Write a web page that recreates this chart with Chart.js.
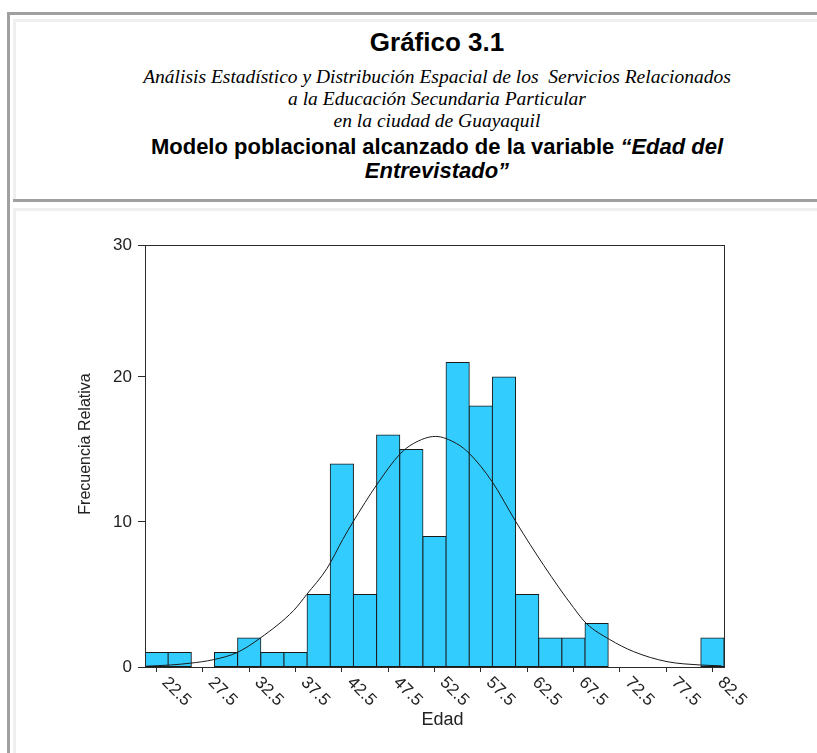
<!DOCTYPE html>
<html lang="es">
<head>
  <meta charset="UTF-8" />
  <title>Gráfico 3.1 - Edad del Entrevistado</title>
  <style>
    body {
      margin: 0;
      background: #fff;
      width: 817px;
      height: 753px;
      overflow: hidden;
      position: relative;
      font-family: 'Liberation Sans', Arial, sans-serif;
      color: #000;
    }
    .ln { position: absolute; }
    .dark { background: #a0a0a0; }
    .light { background: #efefef; }
    .txt {
      position: absolute;
      left: 16px;
      width: 842px;
      text-align: center;
      white-space: nowrap;
    }
    .t1 { top: 28px; font-size: 26px; line-height: 28px; font-weight: bold; }
    .t2 { top: 66px; font-size: 19.5px; line-height: 22px; font-style: italic; font-family: 'Liberation Serif', 'Times New Roman', serif; }
    .t3 { top: 135px; font-size: 22px; line-height: 24px; font-weight: bold; }
    #wrap { position: absolute; left: 16px; top: 211px; width: 801px; height: 542px; }
  </style>
</head>
<body>
  <!-- table borders -->
  <div class="ln dark" style="left:7px; top:12px; width:3px; height:741px;"></div>
  <div class="ln dark" style="left:7px; top:12px; width:810px; height:3px;"></div>
  <div class="ln light" style="left:13px; top:19px; width:3px; height:183px;"></div>
  <div class="ln light" style="left:13px; top:19px; width:804px; height:3px;"></div>
  <div class="ln dark" style="left:13px; top:199px; width:804px; height:3px;"></div>
  <div class="ln light" style="left:13px; top:208px; width:3px; height:545px;"></div>
  <div class="ln light" style="left:13px; top:208px; width:804px; height:3px;"></div>

  <div class="txt t1">Gráfico 3.1</div>
  <div class="txt t2">Análisis Estadístico y Distribución Espacial de los &nbsp;Servicios Relacionados<br>a la Educación Secundaria Particular<br>en la ciudad de Guayaquil</div>
  <div class="txt t3">Modelo poblacional alcanzado de la variable <i>“Edad del<br>Entrevistado”</i></div>

  <div id="wrap"><canvas id="histChart" width="801" height="542"></canvas></div>

  <script src="https://cdn.jsdelivr.net/npm/chart.js"></script>
  <script>
    // histogram bins (centre of each 2.5-year class) and counts
    const binCenters = [22.5, 25, 27.5, 30, 32.5, 35, 37.5, 40, 42.5, 45, 47.5, 50, 52.5,
                        55, 57.5, 60, 62.5, 65, 67.5, 70, 72.5, 75, 77.5, 80, 82.5];
    const frequencies = [1, 1, 0, 1, 2, 1, 1, 5, 14, 5, 16, 15, 9,
                         21, 18, 20, 5, 2, 2, 3, 0, 0, 0, 0, 2];

    // normal curve
    const curveX = [21.25, 24, 26.1, 28.6, 31.2, 33.7, 37.3, 38.7, 40.9, 42.6, 43.7, 46.3,
                    48.8, 50.2, 52.6, 54.9, 56.3, 58.7, 61.3, 64.3, 67.5, 68.9, 71.4, 74,
                    77.6, 81.2, 83.5];
    const curveY = [0.05, 0.14, 0.26, 0.5, 1.0, 2.0, 3.9, 5.0, 6.8, 8.8, 10.0, 12.6,
                    14.7, 15.4, 15.9, 15.4, 14.7, 12.8, 10.0, 7.0, 4.1, 3.0, 1.9, 1.06,
                    0.37, 0.14, 0.08];

    const xTickValues = [22.5, 27.5, 32.5, 37.5, 42.5, 47.5, 52.5, 57.5, 62.5, 67.5, 72.5, 77.5, 82.5];
    const xTickLabels = ['22.5', '27.5', '32.5', '37.5', '42.5', '47.5', '52.5', '57.5', '62.5', '67.5', '72.5', '77.5', '82.5'];
    // the top of the frame sits a little under 30 in the original, but is labelled 30
    const yTickValues = [0, 10, 20, 29.1];
    const yTickLabels = ['0', '10', '20', '30'];

    const tickFont = { family: "'Liberation Sans', Arial, sans-serif", size: 17 };

    // frame, rotated x labels and axis titles
    const framePlugin = {
      id: 'frame',
      afterDatasetsDraw(chart) {
        const { ctx, chartArea: a, scales: { x } } = chart;
        ctx.save();
        ctx.strokeStyle = '#2a2a2a';
        ctx.lineWidth = 1;
        ctx.strokeRect(Math.round(a.left) + 0.5, Math.round(a.top) + 0.5,
                       Math.round(a.right - a.left), Math.round(a.bottom - a.top));

        ctx.fillStyle = '#222';
        ctx.font = "17px 'Liberation Sans', Arial, sans-serif";
        ctx.textAlign = 'left';
        ctx.textBaseline = 'middle';
        xTickValues.forEach((v, i) => {
          ctx.save();
          ctx.translate(x.getPixelForValue(v) + 8, a.bottom + 13);
          ctx.rotate(Math.PI / 4);
          ctx.fillText(xTickLabels[i], 0, 0);
          ctx.restore();
        });

        ctx.font = "18px 'Liberation Sans', Arial, sans-serif";
        ctx.textAlign = 'center';
        ctx.fillText('Edad', (a.left + a.right) / 2 + 8, a.bottom + 53);

        ctx.save();
        ctx.font = "16px 'Liberation Sans', Arial, sans-serif";
        ctx.translate(70, (a.top + a.bottom) / 2 - 12);
        ctx.rotate(-Math.PI / 2);
        ctx.fillText('Frecuencia Relativa', 0, 0);
        ctx.restore();
        ctx.restore();
      }
    };

    const ctx = document.getElementById('histChart').getContext('2d');
    const histChart = new Chart(ctx, {
      type: 'bar',
      data: {
        datasets: [
          {
            type: 'line',
            label: 'Normal',
            data: curveX.map((x, i) => ({ x: x, y: curveY[i] })),
            borderColor: '#1a1a1a',
            borderWidth: 1,
            pointRadius: 0,
            cubicInterpolationMode: 'monotone',
            fill: false,
            order: 0
          },
          {
            type: 'bar',
            label: 'Frecuencia',
            data: binCenters.map((x, i) => ({ x: x, y: frequencies[i] })),
            backgroundColor: '#33ccff',
            borderColor: '#1a1a1a',
            borderWidth: 1,
            borderSkipped: false,
            inflateAmount: 0.5,
            barPercentage: 1,
            categoryPercentage: 1,
            order: 1
          }
        ]
      },
      options: {
        responsive: false,
        animation: false,
        layout: { padding: { top: 34, right: 93, bottom: 0, left: 0 } },
        plugins: {
          legend: { display: false },
          tooltip: { enabled: false }
        },
        scales: {
          x: {
            type: 'linear',
            min: 21.25,
            max: 83.75,
            offset: false,
            afterBuildTicks: function(scale) {
              scale.ticks = xTickValues.map(v => ({ value: v }));
            },
            afterFit: function(scale) { scale.height = 86; },
            ticks: { display: false },
            grid: { offset: false, drawOnChartArea: false, tickLength: 5, color: '#2a2a2a' },
            border: { color: '#2a2a2a' }
          },
          y: {
            min: 0,
            max: 29.1,
            afterBuildTicks: function(scale) {
              scale.ticks = yTickValues.map(v => ({ value: v }));
            },
            afterFit: function(scale) { scale.width = 129; },
            ticks: {
              font: tickFont,
              color: '#222',
              padding: 6,
              callback: function(value, index) { return yTickLabels[index]; }
            },
            grid: { drawOnChartArea: false, tickLength: 7, color: '#2a2a2a' },
            border: { color: '#2a2a2a' }
          }
        }
      },
      plugins: [framePlugin]
    });
  </script>
</body>
</html>
